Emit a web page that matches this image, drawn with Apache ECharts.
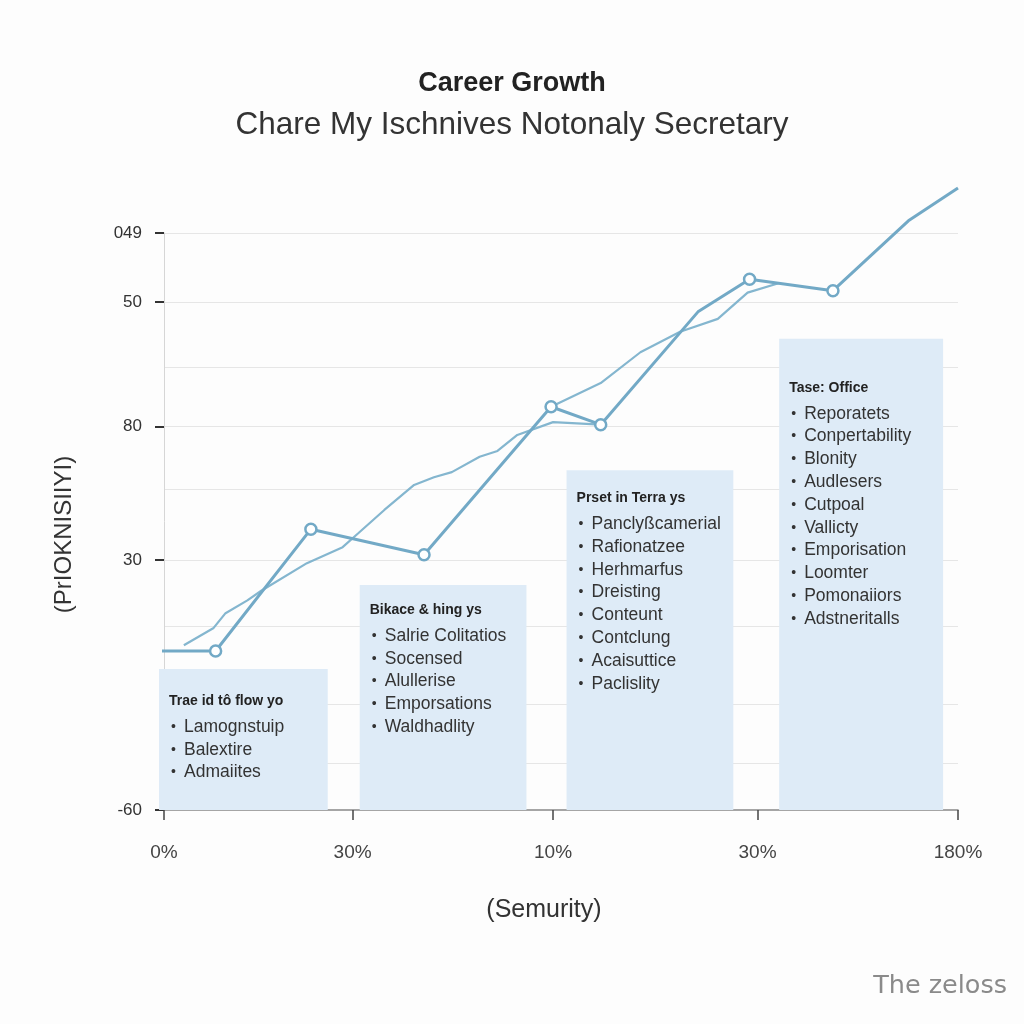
<!DOCTYPE html>
<html>
<head>
<meta charset="utf-8">
<script src="https://cdn.jsdelivr.net/npm/echarts@6/dist/echarts.min.js"></script>
<style>
html,body{margin:0;padding:0;background:#fdfdfd;}
#chart{width:1024px;height:1024px;}
</style>
</head>
<body>
<div id="chart"></div>
<script>
// ---- data ----
const xTickValues = [0, 0.95, 1.96, 2.99, 4];
const xTickLabels = ['0%', '30%', '10%', '30%', '180%'];
const yTickValues = [0, 3.9, 5.98, 7.92, 9];
const yTickLabels = ['-60', '30', '80', '50', '049'];
const yGridValues = [0.73, 1.65, 2.87, 3.9, 5.01, 5.98, 6.9, 7.92, 9];

// main path (with markers)
const pathX = [-0.03, 0.26, 0.74, 1.31, 1.95, 2.20, 2.69, 2.95, 3.37, 3.75, 4.00];
const pathY = [2.48, 2.48, 4.38, 3.98, 6.29, 6.01, 7.77, 8.28, 8.10, 9.19, 9.70];
const pathMarked = [false, true, true, true, true, true, false, true, true, false, false];

// trend path, lower part
const trendLowX = [0.10, 0.25, 0.31, 0.42, 0.49, 0.72, 0.90, 0.98, 1.11, 1.26, 1.36, 1.45, 1.59, 1.68, 1.78, 1.96, 2.20];
const trendLowY = [2.57, 2.84, 3.07, 3.27, 3.42, 3.85, 4.10, 4.32, 4.68, 5.07, 5.19, 5.27, 5.51, 5.60, 5.85, 6.05, 6.01];
// trend path, upper part
const trendHighX = [1.95, 2.20, 2.40, 2.60, 2.79, 2.94, 3.10];
const trendHighY = [6.29, 6.66, 7.14, 7.46, 7.66, 8.07, 8.22];

// stage boxes
const boxStart = [-0.025, 0.986, 2.028, 3.099];
const boxEnd = [0.825, 1.826, 2.868, 3.925];
const boxTop = [2.20, 3.51, 5.30, 7.35];
const boxTitles = ['Trae id tô flow yo', 'Bikace & hing ys', 'Prset in Terra ys', 'Tase: Office'];
const boxItems = [
  ['Lamognstuip', 'Balextire', 'Admaiites'],
  ['Salrie Colitatios', 'Socensed', 'Alullerise', 'Emporsations', 'Waldhadlity'],
  ['Panclyßcamerial', 'Rafionatzee', 'Herhmarfus', 'Dreisting', 'Conteunt', 'Contclung', 'Acaisuttice', 'Paclislity'],
  ['Reporatets', 'Conpertability', 'Blonity', 'Audlesers', 'Cutpoal', 'Vallicty', 'Emporisation', 'Loomter', 'Pomonaiiors', 'Adstneritalls']
];

// ---- styles ----
const titleOffsets = [32, 25, 28, 49];
const lineA = '#72a9c6';
const lineB = '#84b6cf';
const font = '"Liberation Sans", Arial, sans-serif';

const chart = echarts.init(document.getElementById('chart'));

const boxData = boxStart.map((s, i) => [s, boxEnd[i], boxTop[i], i]);
const pick = (vals, labels) => v => {
  const i = vals.findIndex(t => Math.abs(t - v) < 1e-6);
  return i >= 0 ? labels[i] : '';
};

const option = {
  backgroundColor: '#fdfdfd',
  animation: false,
  title: [
    { text: 'Career Growth', left: 'center', top: 65,
      textStyle: { fontFamily: font, fontSize: 27, fontWeight: 'bold', color: '#222' } },
    { text: 'Chare My Ischnives Notonaly Secretary', left: 'center', top: 104,
      textStyle: { fontFamily: font, fontSize: 31.5, fontWeight: 'normal', color: '#333' } }
  ],
  grid: { left: 164, right: 66, top: 233, bottom: 214 },
  xAxis: {
    type: 'value', min: 0, max: 4, interval: 1,
    name: '(Semurity)', nameLocation: 'middle', nameGap: 88,
    nameTextStyle: { fontFamily: '"Liberation Sans Narrow", "Liberation Sans", sans-serif', fontSize: 25, color: '#333', padding: [0, 34, 0, 0] },
    axisLine: { show: true, lineStyle: { color: '#888', width: 1.5 } },
    axisTick: { show: true, length: 10, customValues: xTickValues, lineStyle: { color: '#444', width: 1.5 } },
    axisLabel: {
      customValues: xTickValues, margin: 33, fontSize: 19, color: '#444',
      fontFamily: '"Liberation Sans Narrow", "Liberation Sans", sans-serif',
      formatter: pick(xTickValues, xTickLabels)
    },
    splitLine: { show: false }
  },
  yAxis: [
    {
      type: 'value', min: 0, max: 9, interval: 1,
      name: '(PrIOKNISIIYI)', nameLocation: 'middle', nameGap: 88, nameRotate: 90,
      nameTextStyle: { fontFamily: font, fontSize: 24, color: '#333', padding: [0, 26, 0, 0] },
      axisLine: { show: true, lineStyle: { color: '#d6d6d6', width: 1 } },
      axisTick: { show: true, length: 9, customValues: yTickValues, lineStyle: { color: '#333', width: 2 } },
      axisLabel: {
        customValues: yTickValues, margin: 22, fontSize: 17, color: '#333', fontFamily: font,
        formatter: pick(yTickValues, yTickLabels)
      },
      splitLine: { show: false }
    },
    {
      type: 'value', min: 0, max: 9, interval: 1, position: 'left',
      axisLine: { show: false },
      axisTick: { show: false, customValues: yGridValues },
      axisLabel: { show: false },
      splitLine: { show: true, lineStyle: { color: '#e6e6e6', width: 1 } }
    }
  ],
  graphic: [
    { type: 'text', right: 17, top: 973, z: 10,
      style: { text: 'The zeloss', fontFamily: '"DejaVu Sans", sans-serif', fontSize: 25.5, fill: '#8a8a8a' } }
  ],
  series: [
    {
      type: 'custom',
      z: 1,
      encode: { x: [0, 1], y: 2 },
      data: boxData,
      clip: false,
      renderItem: (params, api) => {
        const i = api.value(3);
        const p0 = api.coord([api.value(0), api.value(2)]);
        const p1 = api.coord([api.value(1), 0]);
        const children = [{
          type: 'rect',
          shape: { x: p0[0], y: p0[1], width: p1[0] - p0[0], height: p1[1] - p0[1] },
          style: { fill: '#deebf7' }
        }];
        const ty = p0[1] + titleOffsets[i];
        children.push({
          type: 'text', x: p0[0] + 10, y: ty,
          style: { text: boxTitles[i], fontFamily: font, fontSize: 14, fontWeight: 'bold', fill: '#222', verticalAlign: 'middle' }
        });
        boxItems[i].forEach((t, k) => {
          const yy = ty + 26 + k * 22.8;
          children.push({ type: 'text', x: p0[0] + 12, y: yy,
            style: { text: '•', fontFamily: font, fontSize: 14, fill: '#333', verticalAlign: 'middle' } });
          children.push({ type: 'text', x: p0[0] + 25, y: yy,
            style: { text: t, fontFamily: font, fontSize: 17.5, fill: '#333', verticalAlign: 'middle' } });
        });
        return { type: 'group', children };
      }
    },
    {
      type: 'line', z: 3, clip: false,
      data: trendLowX.map((x, i) => [x, trendLowY[i]]),
      symbol: 'none',
      lineStyle: { color: lineB, width: 2.2 }
    },
    {
      type: 'line', z: 3, clip: false,
      data: trendHighX.map((x, i) => [x, trendHighY[i]]),
      symbol: 'none',
      lineStyle: { color: lineB, width: 2.2 }
    },
    {
      type: 'line', z: 4, clip: false,
      data: pathX.map((x, i) => ({ value: [x, pathY[i]], symbol: pathMarked[i] ? 'circle' : 'none' })),
      symbol: 'circle', symbolSize: 11,
      itemStyle: { color: '#ffffff', borderColor: lineA, borderWidth: 2.5 },
      lineStyle: { color: lineA, width: 3 }
    }
  ]
};
chart.setOption(option);
</script>
</body>
</html>
